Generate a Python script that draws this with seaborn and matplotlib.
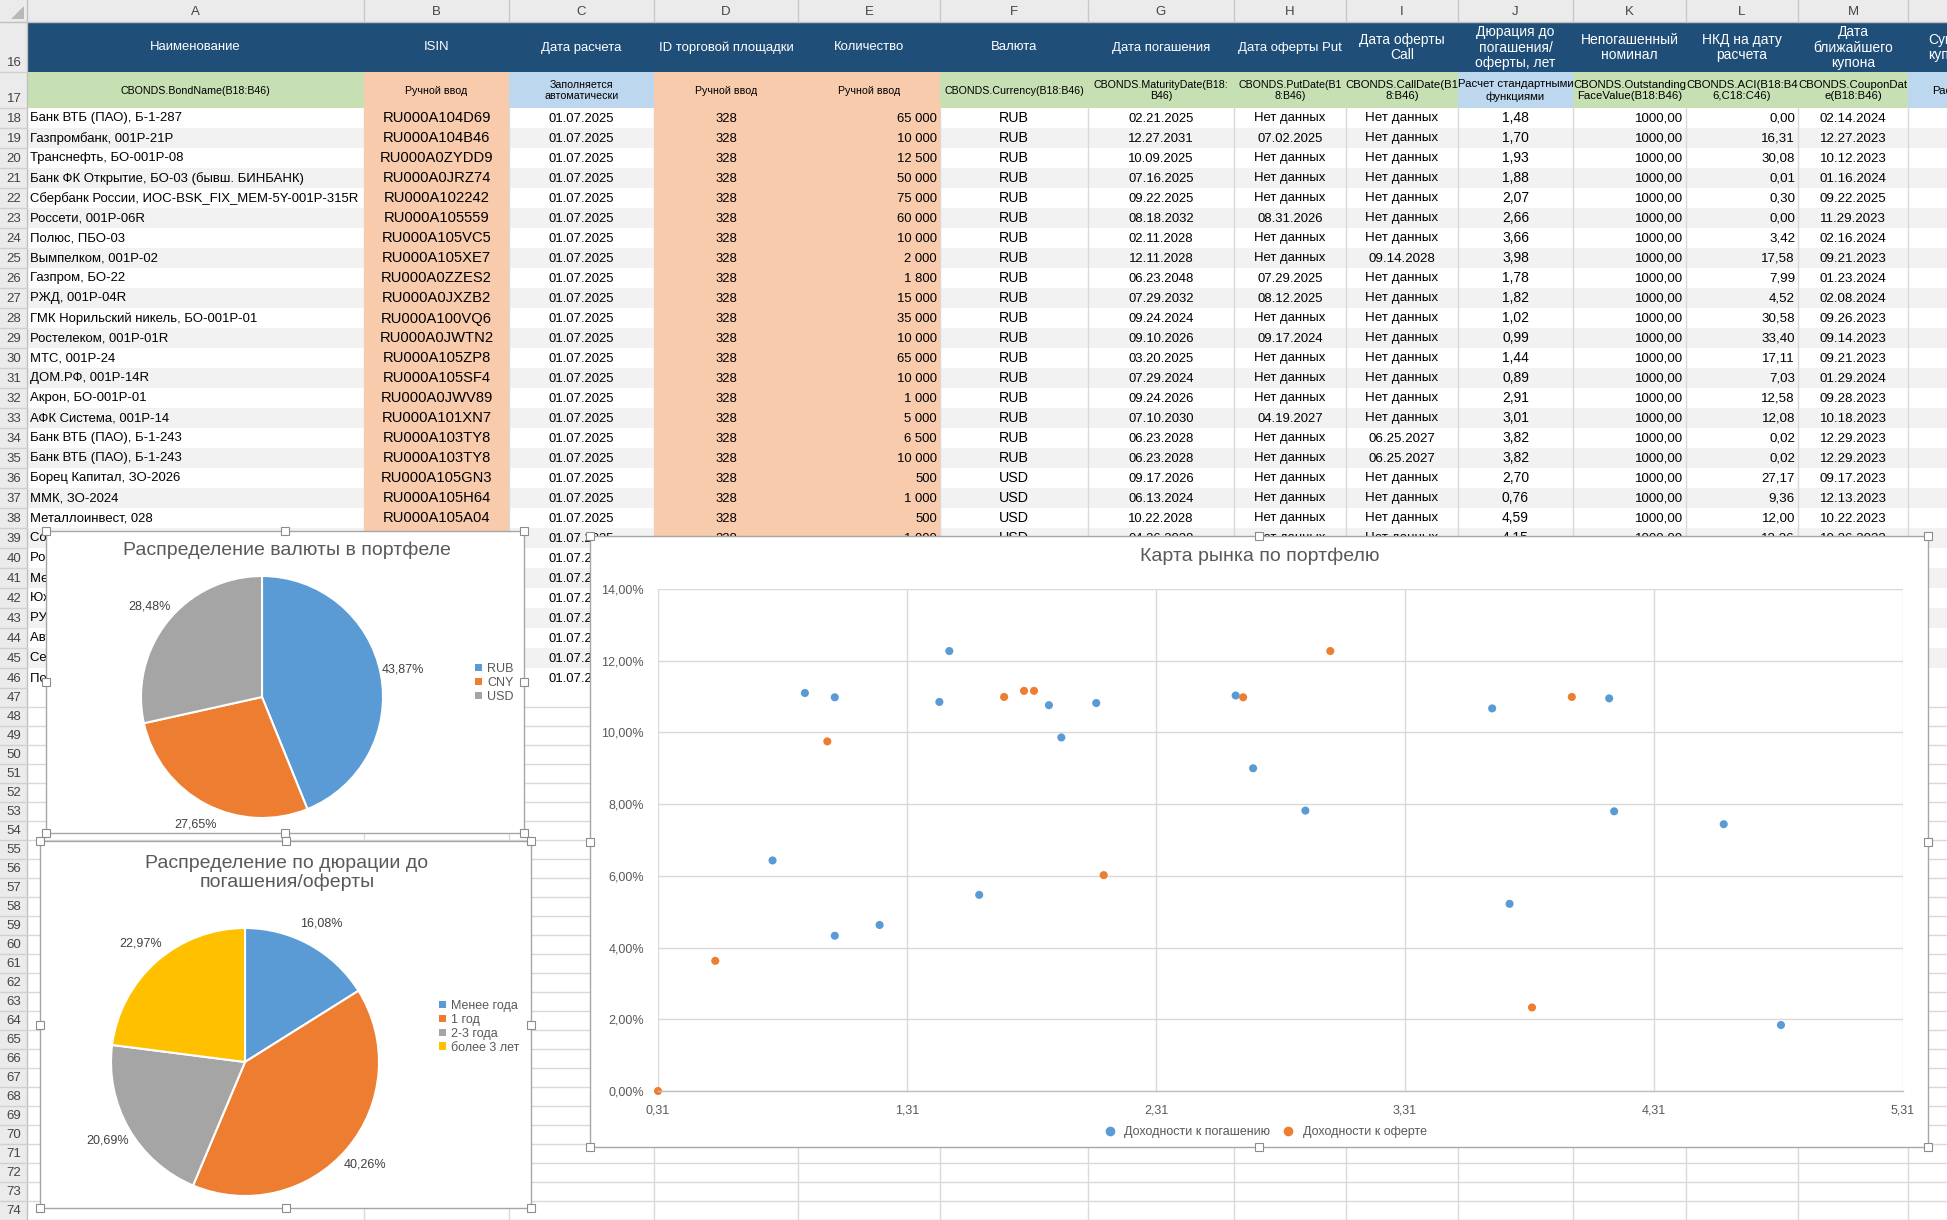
#!/usr/bin/env python3
"""
plot.py
-----------------------------------
Excel-like portfolio sheet: bond table + currency / duration pies + market map.
Output: out.png
"""

import pandas as pd
import matplotlib
matplotlib.use("Agg")
import matplotlib.pyplot as plt
from matplotlib.patches import Rectangle, Polygon, Patch
from matplotlib import font_manager
import seaborn as sns

W, H = 1947, 1220

# ---------------- data ----------------
COL_LETTERS = list("ABCDEFGHIJKLM")
COL_EDGES = [27, 364, 509, 654, 798, 940, 1088, 1234, 1346, 1458, 1573, 1686, 1798, 1908, 1992]

HEADERS = ["Наименование", "ISIN", "Дата расчета", "ID торговой площадки", "Количество",
           "Валюта", "Дата погашения", "Дата оферты Put", "Дата оферты\nCall",
           "Дюрация до\nпогашения/\nоферты, лет", "Непогашенный\nноминал",
           "НКД на дату\nрасчета", "Дата\nближайшего\nкупона", "Сумма\nкупона"]
SOURCES = ["CBONDS.BondName(B18:B46)", "Ручной ввод", "Заполняется\nавтоматически",
           "Ручной ввод", "Ручной ввод", "CBONDS.Currency(B18:B46)",
           "CBONDS.MaturityDate(B18:\nB46)", "CBONDS.PutDate(B1\n8:B46)",
           "CBONDS.CallDate(B1\n8:B46)", "Расчет стандартными\nфункциями",
           "CBONDS.Outstanding\nFaceValue(B18:B46)", "CBONDS.ACI(B18:B4\n6,C18:C46)",
           "CBONDS.CouponDat\ne(B18:B46)", "Расчет"]

NAMES = ["Банк ВТБ (ПАО), Б-1-287", "Газпромбанк, 001P-21P", "Транснефть, БО-001P-08",
         "Банк ФК Открытие, БО-03 (бывш. БИНБАНК)", "Сбербанк России, ИОС-BSK_FIX_MEM-5Y-001P-315R",
         "Россети, 001P-06R", "Полюс, ПБО-03", "Вымпелком, 001P-02", "Газпром, БО-22",
         "РЖД, 001P-04R", "ГМК Норильский никель, БО-001P-01", "Ростелеком, 001P-01R",
         "МТС, 001P-24", "ДОМ.РФ, 001P-14R", "Акрон, БО-001P-01", "АФК Система, 001P-14",
         "Банк ВТБ (ПАО), Б-1-243", "Банк ВТБ (ПАО), Б-1-243", "Борец Капитал, ЗО-2026",
         "ММК, ЗО-2024", "Металлоинвест, 028", "Совкомфлот, ЗО-2028", "Роснефть, 002P-13",
         "Металлоинвест, 001P-05", "Южуралзолото, 001P-02", "РУСАЛ Братск, БО-001P-05",
         "Автодор, БО-002P-06", "Северсталь, БО-001P-01", "Полюс, ПБО-02"]
ISINS = ["RU000A104D69", "RU000A104B46", "RU000A0ZYDD9", "RU000A0JRZ74", "RU000A102242",
         "RU000A105559", "RU000A105VC5", "RU000A105XE7", "RU000A0ZZES2", "RU000A0JXZB2",
         "RU000A100VQ6", "RU000A0JWTN2", "RU000A105ZP8", "RU000A105SF4", "RU000A0JWV89",
         "RU000A101XN7", "RU000A103TY8", "RU000A103TY8", "RU000A105GN3", "RU000A105H64",
         "RU000A105A04", "RU000A105Q63", "RU000A105RZ1", "RU000A105C96", "RU000A105MH7",
         "RU000A105SG2", "RU000A105C47", "RU000A105PG7", "RU000A1055X8"]
CALC_DATE = "01.07.2025"
VENUE = "328"
QTY = ["65 000", "10 000", "12 500", "50 000", "75 000", "60 000", "10 000", "2 000", "1 800",
       "15 000", "35 000", "10 000", "65 000", "10 000", "1 000", "5 000", "6 500", "10 000",
       "500", "1 000", "500", "1 000", "2 000", "3 000", "1 500", "5 000", "2 500", "1 000", "4 000"]
CURRENCY = ["RUB"] * 18 + ["USD"] * 4 + ["CNY"] * 7
MATURITY = ["02.21.2025", "12.27.2031", "10.09.2025", "07.16.2025", "09.22.2025", "08.18.2032",
            "02.11.2028", "12.11.2028", "06.23.2048", "07.29.2032", "09.24.2024", "09.10.2026",
            "03.20.2025", "07.29.2024", "09.24.2026", "07.10.2030", "06.23.2028", "06.23.2028",
            "09.17.2026", "06.13.2024", "10.22.2028", "04.26.2028", "03.12.2026", "12.21.2027",
            "09.12.2025", "04.08.2026", "08.27.2027", "03.14.2026", "11.07.2025"]
ND = "Нет данных"
PUT_DATE = [ND, "07.02.2025", ND, ND, ND, "08.31.2026", ND, ND, "07.29.2025", "08.12.2025",
            ND, "09.17.2024", ND, ND, ND, "04.19.2027"] + [ND] * 13
CALL_DATE = [ND] * 7 + ["09.14.2028"] + [ND] * 8 + ["06.25.2027", "06.25.2027"] + [ND] * 11
DURATION = ["1,48", "1,70", "1,93", "1,88", "2,07", "2,66", "3,66", "3,98", "1,78", "1,82",
            "1,02", "0,99", "1,44", "0,89", "2,91", "3,01", "3,82", "3,82", "2,70", "0,76",
            "4,59", "4,15", "2,45", "3,21", "1,98", "2,41", "3,05", "2,51", "2,08"]
FACE = "1000,00"
ACI = ["0,00", "16,31", "30,08", "0,01", "0,30", "0,00", "3,42", "17,58", "7,99", "4,52",
       "30,58", "33,40", "17,11", "7,03", "12,58", "12,08", "0,02", "0,02", "27,17", "9,36",
       "12,00", "13,26", "5,12", "8,14", "2,77", "4,30", "21,40", "6,02", "3,88"]
COUPON_DATE = ["02.14.2024", "12.27.2023", "10.12.2023", "01.16.2024", "09.22.2025", "11.29.2023",
               "02.16.2024", "09.21.2023", "01.23.2024", "02.08.2024", "09.26.2023", "09.14.2023",
               "09.21.2023", "01.29.2024", "09.28.2023", "10.18.2023", "12.29.2023", "12.29.2023",
               "09.17.2023", "12.13.2023", "10.22.2023", "10.26.2023", "09.15.2023", "12.28.2023",
               "12.15.2023", "10.13.2023", "11.30.2023", "09.20.2023", "11.10.2023"]

CUR_LABELS = ["RUB", "CNY", "USD"]
CUR_SHARE = [43.87, 27.65, 28.48]
DUR_LABELS = ["Менее года", "1 год", "2-3 года", "более 3 лет"]
DUR_SHARE = [16.08, 40.26, 20.69, 22.97]

YTM_DUR = [0.77, 0.90, 1.02, 1.02, 1.20, 1.44, 1.48, 1.60, 1.88, 1.93,
           2.07, 2.63, 2.70, 2.91, 3.66, 3.73, 4.13, 4.15, 4.59, 4.82]
YTM = [6.43, 11.10, 10.98, 4.33, 4.63, 10.85, 12.27, 5.47, 10.76, 9.86,
       10.82, 11.03, 9.00, 7.82, 10.67, 5.22, 10.95, 7.80, 7.44, 1.84]
PUT_DUR = [0.31, 0.54, 0.99, 1.70, 1.78, 1.82, 2.10, 2.66, 3.01, 3.82, 3.98]
YTP = [0.00, 3.63, 9.75, 10.99, 11.16, 11.16, 6.02, 10.98, 12.27, 2.33, 10.99]
SERIES = ["Доходности к погашению", "Доходности к оферте"]
X_TICKS = [0.31, 1.31, 2.31, 3.31, 4.31, 5.31]
Y_TICKS = [0, 2, 4, 6, 8, 10, 12, 14]

# ---------------- style ----------------
sns.set_theme(style="whitegrid")
REG = "Liberation Sans"
plt.rcParams["font.family"] = [REG, "DejaVu Sans"]
_installed = {f.name for f in font_manager.fontManager.ttflist}
if "Liberation Sans Narrow" in _installed:
    NARROW, K = "Liberation Sans Narrow", 1.0
else:
    NARROW, K = REG, 0.82

BLUE, ORANGE, GRAY, YELLOW = "#5B9BD5", "#ED7D31", "#A5A5A5", "#FFC000"
HDR = "#1F4E78"
GREEN_C, ORANGE_C, BLUE_C = "#C6E0B4", "#F8CBAD", "#BDD7EE"
SRC_FILL = [GREEN_C, ORANGE_C, BLUE_C, ORANGE_C, ORANGE_C, GREEN_C, GREEN_C, GREEN_C,
            GREEN_C, BLUE_C, GREEN_C, GREEN_C, GREEN_C, BLUE_C]
ALIGN = ["left", "center", "center", "center", "right", "center", "center", "center",
         "center", "center", "right", "right", "center", "center"]
IS_NARROW = [True] * 8 + [False] * 6
DATA_SIZE = [11.5, 13, 11.5, 11.5, 11.5, 12.5, 11.5, 11.5, 9.6, 10, 9.6, 9.6, 9.6, 9.6]
GRID = "#D9D9D9"
TXT = "#595959"

# chart cards lying over the sheet (x0, y0, x1, y1 in pixels)
BOXES = [(46, 531, 524, 833), (40, 841, 531, 1208), (590, 536, 1928, 1147)]

fig = plt.figure(figsize=(W / 100, H / 100), dpi=100)
tab = fig.add_axes([0, 0, 1, 1])
tab.set_xlim(0, W)
tab.set_ylim(H, 0)
tab.axis("off")


def ry(r):
    if r == 16:
        return 22, 50
    if r == 17:
        return 72, 36
    if r <= 46:
        return 108 + (r - 18) * 20, 20
    return 688 + (r - 47) * 19, 19


def hidden(x0, y0, x1, y1, tol=4):
    return any(x0 >= bx0 and x1 <= bx1 and y0 >= by0 - tol and y1 <= by1
               for (bx0, by0, bx1, by1) in BOXES)


def cell_text(c, y0, h, s, size, narrow, color="black", align=None, ls=1.1):
    x0, x1 = COL_EDGES[c], COL_EDGES[c + 1]
    if not s or hidden(x0, y0, x1, y0 + h):
        return
    align = align or ALIGN[c]
    if align == "left":
        x, ha = x0 + 3, "left"
    elif align == "right":
        x, ha = x1 - 3, "right"
    else:
        x, ha = (x0 + x1) / 2, "center"
    fam = NARROW if narrow else REG
    fs = size * (K if narrow else 1.0)
    t = tab.text(x, y0 + h / 2 + 0.5, s, ha=ha, va="center", family=[fam, "DejaVu Sans"],
                 fontsize=fs, color=color, linespacing=ls, zorder=5)
    t.set_clip_path(Rectangle((x0, y0), x1 - x0, h, transform=tab.transData))


# column letters / row numbers
tab.add_patch(Rectangle((0, 0), W, 22, fc="#EBEBEB", ec="none", zorder=1))
tab.add_patch(Rectangle((0, 0), 27, H, fc="#EBEBEB", ec="none", zorder=1))
tab.add_patch(Polygon([[24, 6], [24, 19], [11, 19]], closed=True, fc="#B8B8B8", ec="none", zorder=2))
tab.plot([0, W], [22, 22], color="#C0C0C0", lw=1, zorder=3)
tab.plot([27, 27], [0, H], color="#C0C0C0", lw=1, zorder=3)
for x in COL_EDGES[1:]:
    tab.plot([x, x], [0, 22], color="#C8C8C8", lw=1, zorder=3)
for i, letter in enumerate(COL_LETTERS):
    x0, x1 = COL_EDGES[i], COL_EDGES[i + 1]
    tab.text((x0 + x1) / 2, 12, letter, ha="center", va="center", fontsize=9.5, color="#444444", zorder=4)
for r in range(16, 75):
    y0, h = ry(r)
    tab.plot([0, 27], [y0 + h, y0 + h], color="#D0D0D0", lw=1, zorder=3)
    if r in (16, 17):
        tab.text(14, y0 + h - 3, str(r), ha="center", va="bottom", fontsize=9.5, color="#444444", zorder=4)
    else:
        tab.text(14, y0 + h / 2 + 0.5, str(r), ha="center", va="center", fontsize=9.5, color="#444444", zorder=4)

# header rows
tab.add_patch(Rectangle((27, 22), W, 50, fc=HDR, ec="none", zorder=1))
for c, s in enumerate(HEADERS):
    cell_text(c, 22, 50, s, 11.5 if IS_NARROW[c] else 10, IS_NARROW[c], color="white",
              align="center", ls=1.12)
for c, s in enumerate(SOURCES):
    x0, x1 = COL_EDGES[c], COL_EDGES[c + 1]
    tab.add_patch(Rectangle((x0, 72), x1 - x0, 36, fc=SRC_FILL[c], ec="none", zorder=1))
    cell_text(c, 72, 36, s, 9.3 if IS_NARROW[c] else 8.2, IS_NARROW[c], align="center", ls=1.2)

# data rows
columns = [NAMES, ISINS, [CALC_DATE] * len(NAMES), [VENUE] * len(NAMES), QTY, CURRENCY,
           MATURITY, PUT_DATE, CALL_DATE, DURATION, [FACE] * len(NAMES), ACI, COUPON_DATE,
           [""] * len(NAMES)]
for i in range(len(NAMES)):
    r = 18 + i
    y0, h = ry(r)
    tab.add_patch(Rectangle((27, y0), W, h, fc="white" if i % 2 == 0 else "#F2F2F2", ec="none", zorder=1))
    for c in range(len(columns)):
        if c in (1, 3, 4):
            x0, x1 = COL_EDGES[c], COL_EDGES[c + 1]
            tab.add_patch(Rectangle((x0, y0), x1 - x0, h, fc=ORANGE_C, ec="none", zorder=3))
        cell_text(c, y0, h, columns[c][i], DATA_SIZE[c], IS_NARROW[c])
for x in COL_EDGES[1:]:
    tab.plot([x, x], [108, 688], color=GRID, lw=1, zorder=2)

# empty grid below the table
for r in range(47, 75):
    y0, h = ry(r)
    tab.plot([27, W], [y0 + h, y0 + h], color=GRID, lw=1, zorder=2)
for x in COL_EDGES[1:]:
    tab.plot([x, x], [688, H], color=GRID, lw=1, zorder=2)

# chart cards with selection handles
for (x0, y0, x1, y1) in BOXES:
    tab.add_patch(Rectangle((x0, y0), x1 - x0, y1 - y0, fc="white", ec="#A6A6A6", lw=1, zorder=50))
    xm, ym = (x0 + x1) / 2, (y0 + y1) / 2
    for (hx, hy) in [(x0, y0), (xm, y0), (x1, y0), (x0, ym), (x1, ym), (x0, y1), (xm, y1), (x1, y1)]:
        tab.add_patch(Rectangle((hx - 4, hy - 4), 8, 8, fc="white", ec="#8C8C8C", lw=0.8, zorder=52))

tab.text(287, 550, "Распределение валюты в портфеле", ha="center", va="center",
         fontsize=14, color=TXT, zorder=55)
tab.text(287, 873, "Распределение по дюрации до\nпогашения/оферты", ha="center", va="center",
         fontsize=14, color=TXT, linespacing=1.1, zorder=55)
tab.text(1260, 556, "Карта рынка по портфелю", ha="center", va="center",
         fontsize=14, color=TXT, zorder=55)


def fig_rect(x0, y0, x1, y1):
    return [x0 / W, 1 - y1 / H, (x1 - x0) / W, (y1 - y0) / H]


def pct_fmt(p):
    return f"{p:.2f}%".replace(".", ",")


def draw_pie(cx, cy, r, values, labels, colors, dist, leg_xy):
    half = 1.25 * r
    ax = fig.add_axes(fig_rect(cx - half, cy - half, cx + half, cy + half), zorder=3)
    ax.pie(values, colors=colors, startangle=90, counterclock=False,
           wedgeprops=dict(edgecolor="white", linewidth=1.5),
           autopct=pct_fmt, pctdistance=dist,
           textprops=dict(color="#404040", fontsize=9))
    ax.set_xlim(-1.25, 1.25)
    ax.set_ylim(-1.25, 1.25)
    ax.set_facecolor("none")
    handles = [Patch(facecolor=col, edgecolor="none") for col in colors]
    ax.legend(handles, labels, loc="upper left",
              bbox_to_anchor=(leg_xy[0] / W, 1 - leg_xy[1] / H), bbox_transform=fig.transFigure,
              frameon=False, fontsize=9, labelcolor=TXT, handlelength=0.55, handleheight=0.55,
              handletextpad=0.4, labelspacing=0.15, borderpad=0, borderaxespad=0)
    return ax


draw_pie(262, 697, 121, CUR_SHARE, CUR_LABELS, [BLUE, ORANGE, GRAY], 1.19, (475, 663))
draw_pie(245, 1062, 134, DUR_SHARE, DUR_LABELS, [BLUE, ORANGE, GRAY, YELLOW], 1.18, (439, 1000))

# market map scatter
df = pd.DataFrame({
    "dur": YTM_DUR + PUT_DUR,
    "yld": YTM + YTP,
    "series": [SERIES[0]] * len(YTM) + [SERIES[1]] * len(YTP),
})
ax = fig.add_axes(fig_rect(658, 589, 1903, 1091), zorder=3)
sns.scatterplot(data=df, x="dur", y="yld", hue="series", palette=[BLUE, ORANGE],
                s=34, linewidth=0, ax=ax, legend=True)
for coll in ax.collections:
    coll.set_clip_on(False)
ax.set_xlim(X_TICKS[0], X_TICKS[-1])
ax.set_ylim(Y_TICKS[0], Y_TICKS[-1])
ax.set_xticks(X_TICKS)
ax.set_xticklabels([f"{v:.2f}".replace(".", ",") for v in X_TICKS])
ax.set_yticks(Y_TICKS)
ax.set_yticklabels([f"{v:.2f}%".replace(".", ",") for v in Y_TICKS])
ax.set_xlabel("")
ax.set_ylabel("")
ax.set_facecolor("none")
ax.grid(True, color=GRID, lw=1)
ax.set_axisbelow(True)
for side in ("left", "right", "top"):
    ax.spines[side].set_visible(False)
ax.spines["bottom"].set_color("#BFBFBF")
ax.spines["bottom"].set_linewidth(1)
ax.tick_params(length=0, labelsize=9, colors=TXT)
ax.tick_params(axis="y", pad=10)
ax.tick_params(axis="x", pad=10)
handles, labels = ax.get_legend_handles_labels()
ax.legend(handles, labels, loc="center", ncol=2,
          bbox_to_anchor=(1262 / W, 1 - 1132 / H), bbox_transform=fig.transFigure,
          frameon=False, fontsize=9, labelcolor=TXT, handletextpad=0.2, columnspacing=0.4,
          borderpad=0, markerscale=1.2)

fig.savefig("out.png", dpi=100)
print("[OK] Saved out.png")
